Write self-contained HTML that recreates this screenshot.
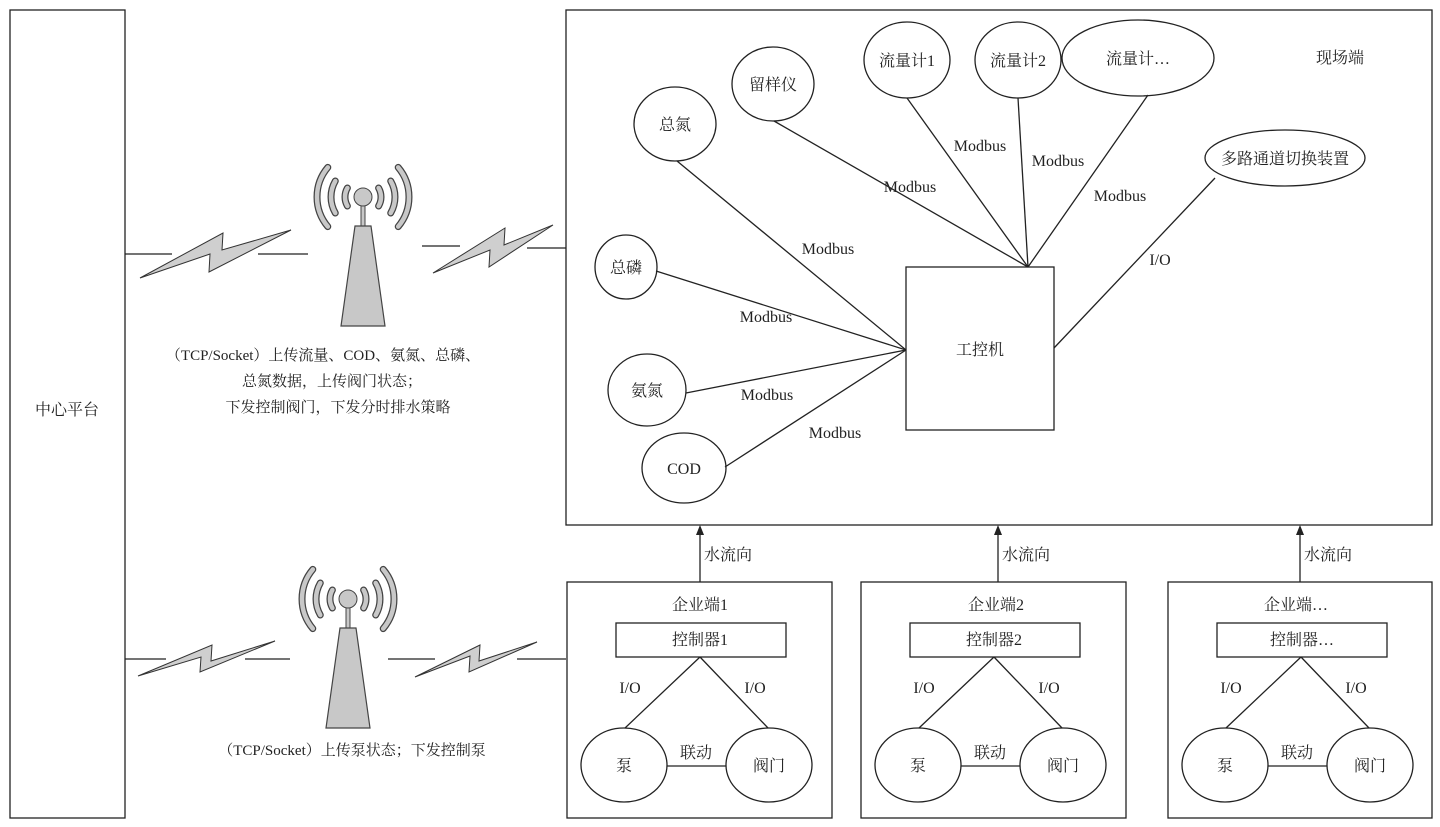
<!DOCTYPE html>
<html><head><meta charset="utf-8"><style>
html,body{margin:0;padding:0;background:#fff;}
svg text{font-family:"Liberation Serif","Noto Serif CJK SC",serif;font-size:16px;fill:#222;}
svg text.cap{font-size:15px;}
</style></head><body>
<svg width="1440" height="822" viewBox="0 0 1440 822" xmlns="http://www.w3.org/2000/svg">
<defs>
<g id="tower">
  <g fill="none" stroke-linecap="round">
    <g stroke="#444" stroke-width="7">
      <path d="M-15.6,-9 A18,18 0 0 0 -15.6,9"/><path d="M15.6,-9 A18,18 0 0 1 15.6,9"/>
      <path d="M-27.7,-16 A32,32 0 0 0 -27.7,16"/><path d="M27.7,-16 A32,32 0 0 1 27.7,16"/>
      <path d="M-35.2,-29.6 A46,46 0 0 0 -35.2,29.6"/><path d="M35.2,-29.6 A46,46 0 0 1 35.2,29.6"/>
    </g>
    <g stroke="#c8c8c8" stroke-width="4.5">
      <path d="M-15.6,-9 A18,18 0 0 0 -15.6,9"/><path d="M15.6,-9 A18,18 0 0 1 15.6,9"/>
      <path d="M-27.7,-16 A32,32 0 0 0 -27.7,16"/><path d="M27.7,-16 A32,32 0 0 1 27.7,16"/>
      <path d="M-35.2,-29.6 A46,46 0 0 0 -35.2,29.6"/><path d="M35.2,-29.6 A46,46 0 0 1 35.2,29.6"/>
    </g>
  </g>
  <rect x="-2" y="8" width="4" height="22" fill="#c8c8c8" stroke="#444" stroke-width="1"/>
  <circle cx="0" cy="0" r="9" fill="#c8c8c8" stroke="#444" stroke-width="1"/>
  <polygon points="-8,29 8,29 22,129 -22,129" fill="#c8c8c8" stroke="#444" stroke-width="1.2"/>
</g>
</defs>
<g fill="none" stroke="#222" stroke-width="1.3">
  <rect x="10" y="10" width="115" height="808"/>
  <rect x="566" y="10" width="866" height="515"/>
  <rect x="567" y="582" width="265" height="236"/>
  <rect x="861" y="582" width="265" height="236"/>
  <rect x="1168" y="582" width="264" height="236"/>
  <line x1="125" y1="254" x2="172" y2="254"/><line x1="258" y1="254" x2="308" y2="254"/>
  <line x1="422" y1="246" x2="460" y2="246"/><line x1="527" y1="248" x2="566" y2="248"/>
  <line x1="125" y1="659" x2="166" y2="659"/><line x1="245" y1="659" x2="290" y2="659"/>
  <line x1="388" y1="659" x2="435" y2="659"/><line x1="517" y1="659" x2="566" y2="659"/>
  <ellipse cx="675" cy="124" rx="41" ry="37"/>
  <ellipse cx="773" cy="84" rx="41" ry="37"/>
  <ellipse cx="907" cy="60" rx="43" ry="38"/>
  <ellipse cx="1018" cy="60" rx="43" ry="38"/>
  <ellipse cx="1138" cy="58" rx="76" ry="38"/>
  <ellipse cx="1285" cy="158" rx="80" ry="28"/>
  <ellipse cx="626" cy="267" rx="31" ry="32"/>
  <ellipse cx="647" cy="390" rx="39" ry="36"/>
  <ellipse cx="684" cy="468" rx="42" ry="35"/>
  <rect x="906" y="267" width="148" height="163"/>
  <line x1="906" y1="350" x2="677" y2="161"/>
  <line x1="906" y1="350" x2="656" y2="271"/>
  <line x1="906" y1="350" x2="686" y2="393"/>
  <line x1="906" y1="350" x2="725" y2="467"/>
  <line x1="1028" y1="267" x2="774" y2="121"/>
  <line x1="1028" y1="267" x2="907" y2="98"/>
  <line x1="1028" y1="267" x2="1018" y2="98"/>
  <line x1="1028" y1="267" x2="1148" y2="95"/>
  <line x1="1054" y1="348" x2="1215" y2="178"/>
  <line x1="700" y1="582" x2="700" y2="532"/>
  <line x1="998" y1="582" x2="998" y2="532"/>
  <line x1="1300" y1="582" x2="1300" y2="532"/>
</g>
<g fill="#222">
  <polygon points="700,525 696,535 704,535"/>
  <polygon points="998,525 994,535 1002,535"/>
  <polygon points="1300,525 1296,535 1304,535"/>
</g>
<g fill="#cfcfcf" stroke="#333" stroke-width="1">
  <polygon points="140,278 223,233 222,250 291,230 209,272 210,254"/>
  <polygon points="433,273 505,228 504,245 553,225 489,267 490,250"/>
  <polygon points="138,676 212,645 211,661 275,641 200,672 201,657"/>
  <polygon points="415,677 480,645 479,661 537,642 469,672 470,656"/>
</g>
<use href="#tower" x="363" y="197"/>
<use href="#tower" x="348" y="599"/>
<g id="ent">
  <g fill="none" stroke="#222" stroke-width="1.3">
    <rect x="616" y="623" width="170" height="34"/>
    <line x1="700" y1="657" x2="625" y2="728"/>
    <line x1="700" y1="657" x2="768" y2="728"/>
    <ellipse cx="624" cy="765" rx="43" ry="37"/>
    <ellipse cx="769" cy="765" rx="43" ry="37"/>
    <line x1="667" y1="766" x2="726" y2="766"/>
  </g>
  <text x="630" y="693" text-anchor="middle">I/O</text>
  <text x="755" y="693" text-anchor="middle">I/O</text>
  <text x="696" y="758" text-anchor="middle">联动</text>
  <text x="624" y="771" text-anchor="middle">泵</text>
  <text x="769" y="771" text-anchor="middle">阀门</text>
</g>
<use href="#ent" x="294" y="0"/>
<use href="#ent" x="601" y="0"/>
<g text-anchor="middle">
  <text x="700" y="610">企业端1</text><text x="700" y="645">控制器1</text>
  <text x="996" y="610">企业端2</text><text x="994" y="645">控制器2</text>
  <text x="1296" y="610">企业端…</text><text x="1302" y="645">控制器…</text>
  <text x="728" y="560">水流向</text><text x="1026" y="560">水流向</text><text x="1328" y="560">水流向</text>
  <text x="67" y="415">中心平台</text>
  <text x="1340" y="63">现场端</text>
  <text x="980" y="355">工控机</text>
  <text x="675" y="130">总氮</text><text x="773" y="90">留样仪</text>
  <text x="907" y="66">流量计1</text><text x="1018" y="66">流量计2</text>
  <text x="1138" y="64">流量计…</text><text x="1285" y="164">多路通道切换装置</text>
  <text x="626" y="273">总磷</text><text x="647" y="396">氨氮</text><text x="684" y="474">COD</text>
  <text x="828" y="254">Modbus</text><text x="766" y="322">Modbus</text>
  <text x="767" y="400">Modbus</text><text x="835" y="438">Modbus</text>
  <text x="910" y="192">Modbus</text><text x="980" y="151">Modbus</text>
  <text x="1058" y="166">Modbus</text><text x="1120" y="201">Modbus</text>
  <text x="1160" y="265">I/O</text>
  <text class="cap" x="323" y="360">（TCP/Socket）上传流量、COD、氨氮、总磷、</text>
  <text class="cap" x="332" y="386">总氮数据，上传阀门状态；</text>
  <text class="cap" x="338" y="412">下发控制阀门，下发分时排水策略</text>
  <text class="cap" x="352" y="755">（TCP/Socket）上传泵状态；下发控制泵</text>
</g>
</svg>
</body></html>
